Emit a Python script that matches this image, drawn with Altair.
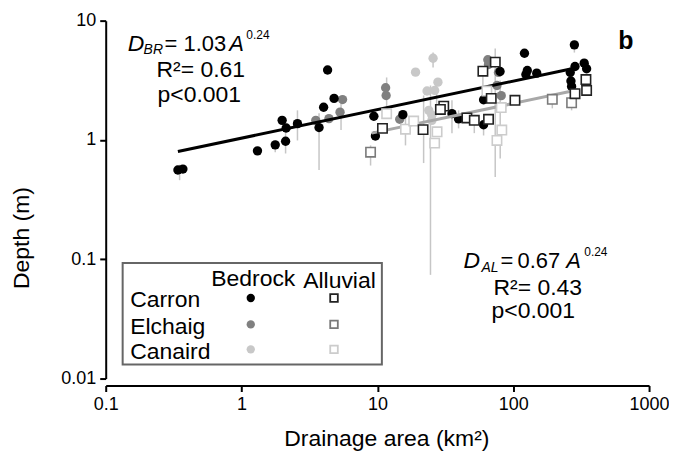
import altair as alt
import pandas as pd

FONT = "Liberation Sans"

# ---------------- data ----------------
basins = ["Carron", "Elchaig", "Canaird"]

# Bedrock channels (filled circles)
carron_br_area = [0.34, 0.37, 1.31, 1.77, 2.11, 2.13, 1.99, 2.58, 3.72, 4.02, 4.80, 4.30, 9.42, 9.67,
                  15.4, 35.4, 39.6, 60.5, 60.5, 80.0, 121, 127, 124, 149, 282, 285, 263, 333, 347, 266, 269, 341]
carron_br_depth = [0.56, 0.57, 0.81, 0.91, 0.975, 1.26, 1.46, 1.37, 1.27, 1.88, 2.23, 3.86, 1.58, 1.08,
                   1.63, 1.66, 1.50, 2.17, 1.34, 3.75, 5.33, 3.82, 3.54, 3.63, 6.27, 4.13, 3.68, 4.40, 3.95, 3.12, 2.81, 2.96]
elchaig_br_area = [3.52, 4.40, 5.54, 5.31, 11.5, 11.6, 14.6, 65.0, 65.8, 77.9, 81.6, 75.9]
elchaig_br_depth = [1.46, 1.51, 2.18, 1.71, 2.74, 2.36, 1.49, 4.70, 4.29, 3.68, 2.35, 2.86]
canaird_br_area = [19.1, 25.7, 27.9, 23.2, 26.4, 23.9, 25.2, 25.2]
canaird_br_depth = [3.70, 4.84, 3.05, 2.57, 2.60, 1.77, 1.61, 1.46]

# Alluvial channels (open squares)
carron_al_area = [10.9, 21.7, 30.8, 29.1, 45.6, 51.7, 65.8, 59.8, 73.8, 68.9, 103, 285, 343, 347]
carron_al_depth = [1.25, 1.22, 1.92, 1.80, 1.53, 1.46, 1.49, 3.77, 4.49, 2.23, 2.15, 2.44, 3.21, 2.60]
elchaig_al_area = [8.91, 194, 269]
elchaig_al_depth = [0.79, 2.19, 2.05]
canaird_al_area = [11.7, 16.1, 18.5, 27.5, 26.4, 82.4, 75.9, 81.6, 64.0]
canaird_al_depth = [1.66, 1.23, 1.44, 1.17, 0.94, 1.21, 0.99, 1.87, 2.57]

# Error bars (vertical ranges)
err_area = [0.35, 1.77, 2.11, 2.58, 3.72, 5.4, 8.91, 11.7, 16.1, 21.9, 24.6, 25.7, 27.3, 35.4, 39.6,
            51.7, 60.5, 59.8, 73.7, 80.2, 194, 269, 282]
err_lo = [0.46, 0.79, 0.77, 0.99, 0.56, 1.21, 0.61, 1.77, 0.90, 0.64, 0.074, 4.05, 1.67, 1.14, 1.25,
          1.14, 1.09, 2.15, 0.49, 0.70, 1.84, 1.77, 5.40]
err_hi = [0.62, 0.99, 1.21, 1.77, 1.67, 2.15, 0.90, 3.34, 1.77, 2.36, 2.86, 5.40, 3.15, 2.15, 1.77,
          1.62, 1.34, 3.82, 5.83, 3.15, 2.36, 2.27, 6.81]

# Fitted power laws (end points of the drawn lines)
br_fit_area = [0.34, 270]
br_fit_depth = [0.80, 3.95]
al_fit_area = [9.1, 300]
al_fit_depth = [1.14, 2.63]

x_ticks = [0.1, 1, 10, 100, 1000]
y_ticks = [0.01, 0.1, 1, 10]

# ---------------- tables ----------------
def frame(area, depth, basin):
    return pd.DataFrame({"area": area, "depth": depth, "basin": basin})

bedrock = pd.concat([
    frame(canaird_br_area, canaird_br_depth, "Canaird"),
    frame(elchaig_br_area, elchaig_br_depth, "Elchaig"),
    frame(carron_br_area, carron_br_depth, "Carron"),
])
alluvial = pd.concat([
    frame(canaird_al_area, canaird_al_depth, "Canaird"),
    frame(elchaig_al_area, elchaig_al_depth, "Elchaig"),
    frame(carron_al_area, carron_al_depth, "Carron"),
])
errs = pd.DataFrame({"area": err_area, "lo": err_lo, "hi": err_hi})
br_fit = pd.DataFrame({"area": br_fit_area, "depth": br_fit_depth})
al_fit = pd.DataFrame({"area": al_fit_area, "depth": al_fit_depth})

W, H = 545, 359

xscale = alt.Scale(type="log", domain=[0.1, 1000], nice=False)
yscale = alt.Scale(type="log", domain=[0.01, 10], nice=False)
xaxis = alt.Axis(values=x_ticks, format="~g", title=None, grid=False, offset=7,
                 tickSize=6, labelPadding=4, labelFlush=False)
yaxis = alt.Axis(values=y_ticks, format="~g", title=None, grid=False,
                 tickSize=6, labelPadding=4, labelFlush=False)

circle_colors = ["#000000", "#808080", "#c8c8c8"]
square_colors = ["#222222", "#7a7a7a", "#cccccc"]

X = alt.X("area:Q", scale=xscale, axis=xaxis)
Y = alt.Y("depth:Q", scale=yscale, axis=yaxis)

err_layer = alt.Chart(errs).mark_rule(color="#c6c6c6", strokeWidth=1.5).encode(
    x=X, y=alt.Y("lo:Q", scale=yscale, axis=yaxis), y2="hi:Q")

circles = alt.Chart(bedrock).mark_circle(size=88, opacity=1).encode(
    x=X, y=Y,
    color=alt.Color("basin:N", scale=alt.Scale(domain=basins, range=circle_colors), legend=None))

br_line = alt.Chart(br_fit).mark_line(color="black", strokeWidth=3).encode(x=X, y=Y)
al_line = alt.Chart(al_fit).mark_line(color="#a8a8a8", strokeWidth=3).encode(x=X, y=Y)

squares = alt.Chart(alluvial).mark_point(shape="square", filled=True, fill="white", size=88,
                                         strokeWidth=1.6, opacity=1).encode(
    x=X, y=Y,
    stroke=alt.Stroke("basin:N", scale=alt.Scale(domain=basins, range=square_colors), legend=None))


def txt(text, x, y, size=23, style="normal", weight="normal", align="left", angle=0):
    return alt.Chart(alt.Data(values=[{}])).mark_text(
        text=text, font=FONT, fontSize=size, fontStyle=style, fontWeight=weight,
        align=align, baseline="alphabetic", angle=angle, color="black"
    ).encode(x=alt.value(x), y=alt.value(y))


# plot-area origin is at page pixel (106, 20)
annotations = [
    # bedrock equation
    txt("D", 22, 30, style="italic"),
    txt("BR", 38, 33.5, size=14, style="italic"),
    txt("=", 59, 30, size=22),
    txt("1.03", 78, 30, size=22),
    txt("A", 124, 30, size=22, style="italic"),
    txt("0.24", 141, 18, size=12),
    txt("R²= 0.61", 51, 57),
    txt("p<0.001", 52, 82),
    # alluvial equation
    txt("D", 359, 248, style="italic"),
    txt("AL", 377, 252.5, size=14, style="italic"),
    txt("=", 396, 248, size=22),
    txt("0.67", 413, 248, size=22),
    txt("A", 462, 248, size=22, style="italic"),
    txt("0.24", 480, 236, size=12),
    txt("R²= 0.43", 389, 275),
    txt("p<0.001", 387, 298),
    # panel letter
    txt("b", 514, 28, size=25, weight="bold"),
    # axis titles
    txt("Depth (m)", -77, 218, angle=270, align="center"),
    txt("Drainage area (km²)", 282, 427, align="center"),
]

# legend
legend_box = alt.Chart(alt.Data(values=[{}])).mark_rect(
    fill="white", stroke="#666666", strokeWidth=2
).encode(x=alt.value(17), x2=alt.value(277), y=alt.value(243), y2=alt.value(345))

legend_layers = [legend_box,
                 txt("Bedrock", 148, 266, align="center"),
                 txt("Alluvial", 234.5, 268, align="center")]
row_y = [287.5, 314, 339]
for i, b in enumerate(basins):
    legend_layers.append(txt(b, 24.5, row_y[i]))
    legend_layers.append(
        alt.Chart(alt.Data(values=[{}])).mark_circle(size=70, opacity=1, color=circle_colors[i])
        .encode(x=alt.value(145.5), y=alt.value(row_y[i] - 9.3)))
    legend_layers.append(
        alt.Chart(alt.Data(values=[{}])).mark_point(shape="square", filled=True, fill="white",
                                                    stroke=square_colors[i], strokeWidth=1.8,
                                                    size=58, opacity=1)
        .encode(x=alt.value(229), y=alt.value(row_y[i] - 9.3)))

chart = alt.layer(err_layer, circles, br_line, al_line, squares, *legend_layers, *annotations).properties(
    width=W, height=H,
    autosize=alt.AutoSizeParams(type="none"),
    padding={"left": 98, "top": 12, "right": 20, "bottom": 74},
).configure_view(stroke=None).configure_axis(
    domainColor="black", domainWidth=2, tickColor="black", tickWidth=2,
    labelFont=FONT, labelFontSize=18, labelColor="black",
)

chart.save("out.html", embed_options={"renderer": "svg", "actions": False})
